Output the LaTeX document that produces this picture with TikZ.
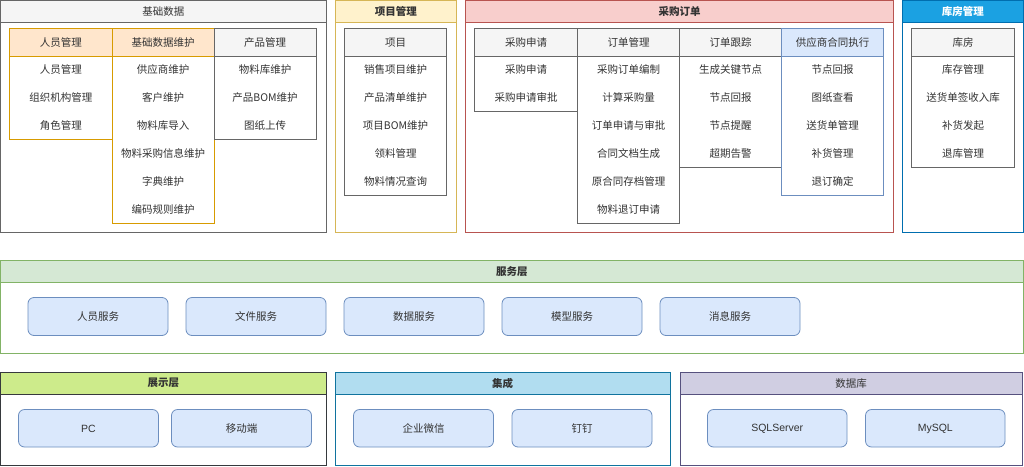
\documentclass[tikz,border=0pt]{standalone}
\usepackage{fontspec}
\setmainfont{Noto Sans CJK SC}
\newfontfamily\latf{Liberation Sans}
\newcommand\lt[1]{{\latf #1}\vphantom{国}}
\definecolor{txt}{HTML}{333333}
\definecolor{grayF}{HTML}{F5F5F5}\definecolor{grayD}{HTML}{666666}
\definecolor{orgF}{HTML}{FFE6CC}\definecolor{orgD}{HTML}{D79B00}
\definecolor{yelF}{HTML}{FFF2CC}\definecolor{yelD}{HTML}{D6B656}
\definecolor{redF}{HTML}{F8CECC}\definecolor{redD}{HTML}{B85450}
\definecolor{bluF}{HTML}{DAE8FC}\definecolor{bluD}{HTML}{6C8EBF}
\definecolor{dbF}{HTML}{1BA1E2}\definecolor{dbD}{HTML}{006EAF}
\definecolor{grnF}{HTML}{D5E8D4}\definecolor{grnD}{HTML}{82B366}
\definecolor{limF}{HTML}{CDEB8B}\definecolor{limD}{HTML}{36393D}
\definecolor{skyF}{HTML}{B1DDF0}\definecolor{skyD}{HTML}{10739E}
\definecolor{purF}{HTML}{D0CEE2}\definecolor{purD}{HTML}{56517E}
\tikzset{
  bx/.style={inner sep=0pt, line width=0.8pt, text=txt, font=\fontsize{10.5}{12}\selectfont},
  hd/.style={bx, font=\bfseries\fontsize{10.5}{12}\selectfont},
  it/.style={inner sep=0pt, text=txt, font=\fontsize{10.5}{12}\selectfont},
  svc/.style={bx, draw=bluD, fill=bluF, rounded corners=6pt},
}
% #1 style, #2 name, #3 x1, #4 y1, #5 x2, #6 y2, #7 text
\newcommand\rbox[7]{%
  \pgfmathsetmacro\bw{#5-#3}\pgfmathsetmacro\bh{#6-#4}%
  \pgfmathsetmacro\bcx{(#3+#5)/2}\pgfmathsetmacro\bcy{(#4+#6)/2}%
  \node[#1, minimum width=\bw pt, minimum height=\bh pt] (#2) at (\bcx,\bcy) {#7};}
\begin{document}
\begin{tikzpicture}[x=1pt,y=-1pt]
\useasboundingbox (0,0) rectangle (1024,466);
% ===== 基础数据 =====
\rbox{bx, draw=grayD, fill=white}{jc}{0.5}{0.5}{326}{232}{}
\rbox{bx, draw=grayD, fill=grayF}{jch}{0.5}{0.5}{326}{22}{基础数据}
% 人员管理
\rbox{bx, draw=orgD, fill=white}{ryb}{9.5}{56}{112}{139.5}{}
\rbox{bx, draw=orgD, fill=orgF}{ryh}{9.5}{28.5}{112}{56}{人员管理}
\node[it] (ry1) at (60.75,69.5) {人员管理};
\node[it] (ry2) at (60.75,97.5) {组织机构管理};
\node[it] (ry3) at (60.75,125.5) {角色管理};
% 基础数据维护
\rbox{bx, draw=orgD, fill=white}{wh}{112}{56}{214}{223}{}
\rbox{bx, draw=orgD, fill=orgF}{whh}{112}{28.5}{214}{56}{基础数据维护}
\node[it] (wh1) at (163,69.5) {供应商维护};
\node[it] (wh2) at (163,97.5) {客户维护};
\node[it] (wh3) at (163,125.5) {物料库导入};
\node[it] (wh4) at (163,153.5) {物料采购信息维护};
\node[it] (wh5) at (163,181.5) {字典维护};
\node[it] (wh6) at (163,209.5) {编码规则维护};
% 产品管理
\rbox{bx, draw=grayD, fill=white}{cp}{214}{56}{316}{139.5}{}
\rbox{bx, draw=grayD, fill=grayF}{cph}{214}{28.5}{316}{56}{产品管理}
\node[it] (cp1) at (265,69.5) {物料库维护};
\node[it] (cp2) at (265,97.5) {产品BOM维护};
\node[it] (cp3) at (265,125.5) {图纸上传};
% ===== 项目管理 =====
\rbox{bx, draw=yelD, fill=white}{xm}{335}{0.5}{456.5}{232}{}
\rbox{hd, draw=yelD, fill=yelF}{xmh}{335}{0.5}{456.5}{22}{项目管理}
\rbox{bx, draw=grayD, fill=white}{xmb}{344.5}{56}{446.5}{195.5}{}
\rbox{bx, draw=grayD, fill=grayF}{xmbh}{344.5}{28.5}{446.5}{56}{项目}
\node[it] (xm1) at (395.5,69.5) {销售项目维护};
\node[it] (xm2) at (395.5,97.5) {产品清单维护};
\node[it] (xm3) at (395.5,125.5) {项目BOM维护};
\node[it] (xm4) at (395.5,153.5) {领料管理};
\node[it] (xm5) at (395.5,181.5) {物料情况查询};
% ===== 采购订单 =====
\rbox{bx, draw=redD, fill=white}{cg}{465.5}{0.5}{893.5}{232}{}
\rbox{hd, draw=redD, fill=redF}{cgh}{465.5}{0.5}{893.5}{22}{采购订单}
\rbox{bx, draw=grayD, fill=white}{sq}{474.5}{56}{577.5}{111.5}{}
\rbox{bx, draw=grayD, fill=grayF}{sqh}{474.5}{28.5}{577.5}{56}{采购申请}
\node[it] (sq1) at (526,69.5) {采购申请};
\node[it] (sq2) at (526,97.5) {采购申请审批};
\rbox{bx, draw=grayD, fill=white}{dd}{577.5}{56}{679.5}{223}{}
\rbox{bx, draw=grayD, fill=grayF}{ddh}{577.5}{28.5}{679.5}{56}{订单管理}
\node[it] (dd1) at (628.5,69.5) {采购订单编制};
\node[it] (dd2) at (628.5,97.5) {计算采购量};
\node[it] (dd3) at (628.5,125.5) {订单申请与审批};
\node[it] (dd4) at (628.5,153.5) {合同文档生成};
\node[it] (dd5) at (628.5,181.5) {原合同存档管理};
\node[it] (dd6) at (628.5,209.5) {物料退订申请};
\rbox{bx, draw=grayD, fill=white}{gz}{679.5}{56}{781.5}{167.5}{}
\rbox{bx, draw=grayD, fill=grayF}{gzh}{679.5}{28.5}{781.5}{56}{订单跟踪}
\node[it] (gz1) at (730.5,69.5) {生成关键节点};
\node[it] (gz2) at (730.5,97.5) {节点回报};
\node[it] (gz3) at (730.5,125.5) {节点提醒};
\node[it] (gz4) at (730.5,153.5) {超期告警};
\rbox{bx, draw=bluD, fill=white}{ht}{781.5}{56}{883.5}{195.5}{}
\rbox{bx, draw=bluD, fill=bluF}{hth}{781.5}{28.5}{883.5}{56}{供应商合同执行}
\node[it] (ht1) at (832.5,69.5) {节点回报};
\node[it] (ht2) at (832.5,97.5) {图纸查看};
\node[it] (ht3) at (832.5,125.5) {送货单管理};
\node[it] (ht4) at (832.5,153.5) {补货管理};
\node[it] (ht5) at (832.5,181.5) {退订确定};
% ===== 库房管理 =====
\rbox{bx, draw=dbD, fill=white}{kf}{902.5}{0.5}{1023}{232}{}
\rbox{hd, draw=dbD, fill=dbF, text=white}{kfh}{902.5}{0.5}{1023}{22}{库房管理}
\rbox{bx, draw=grayD, fill=white}{kfb}{911.5}{56}{1014.5}{167.5}{}
\rbox{bx, draw=grayD, fill=grayF}{kfbh}{911.5}{28.5}{1014.5}{56}{库房}
\node[it] (kf1) at (963,69.5) {库存管理};
\node[it] (kf2) at (963,97.5) {送货单签收入库};
\node[it] (kf3) at (963,125.5) {补货发起};
\node[it] (kf4) at (963,153.5) {退库管理};
% ===== 服务层 =====
\rbox{bx, draw=grnD, fill=white}{fw}{0.5}{260.5}{1023}{353.5}{}
\rbox{hd, draw=grnD, fill=grnF}{fwh}{0.5}{260.5}{1023}{282.5}{服务层}
\rbox{svc}{s1}{28}{297.5}{168}{335.5}{人员服务}
\rbox{svc}{s2}{186}{297.5}{326}{335.5}{文件服务}
\rbox{svc}{s3}{344}{297.5}{484}{335.5}{数据服务}
\rbox{svc}{s4}{502}{297.5}{642}{335.5}{模型服务}
\rbox{svc}{s5}{660}{297.5}{800}{335.5}{消息服务}
% ===== 展示层 =====
\rbox{bx, draw=limD, fill=white}{zs}{0.5}{372.5}{326}{465.5}{}
\rbox{hd, draw=limD, fill=limF}{zsh}{0.5}{372.5}{326}{394}{展示层}
\rbox{svc}{pc}{18.5}{409.5}{158.5}{447}{\lt{PC}}
\rbox{svc}{yd}{171.5}{409.5}{311.5}{447}{移动端}
% ===== 集成 =====
\rbox{bx, draw=skyD, fill=white}{jcg}{335}{372.5}{670}{465.5}{}
\rbox{hd, draw=skyD, fill=skyF}{jcgh}{335}{372.5}{670}{394}{集成}
\rbox{svc}{wx}{353.5}{409.5}{493.5}{447}{企业微信}
\rbox{svc}{dt}{512}{409.5}{652}{447}{钉钉}
% ===== 数据库 =====
\rbox{bx, draw=purD, fill=white}{sjk}{680}{372.5}{1022}{465.5}{}
\rbox{bx, draw=purD, fill=purF}{sjkh}{680}{372.5}{1022}{394}{数据库}
\rbox{svc}{sql}{707.5}{409.5}{847}{447}{\lt{SQLServer}}
\rbox{svc}{my}{865.5}{409.5}{1005}{447}{\lt{MySQL}}
\end{tikzpicture}
\end{document}
